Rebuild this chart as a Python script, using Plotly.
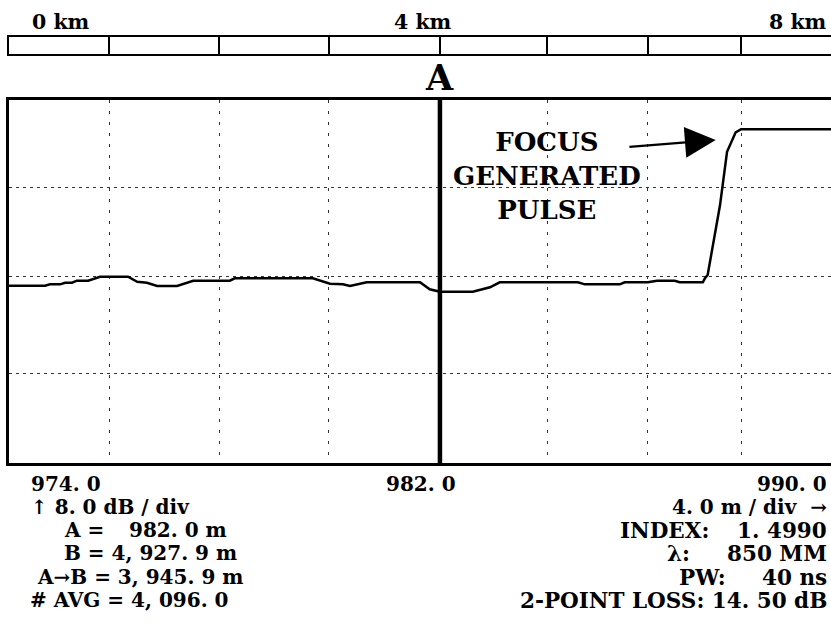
import plotly.graph_objects as go

# ---------------- data ----------------
trace_x_m = [974.00, 974.67, 974.76, 974.95, 975.04, 975.17, 975.26, 975.47, 975.69, 976.21,
             976.38, 976.56, 976.75, 977.12, 977.42, 978.10, 978.19, 979.64, 979.96, 980.20,
             980.33, 980.64, 981.63, 981.81, 982.00, 982.61, 982.93, 983.11, 984.56, 984.69,
             985.34, 985.43, 985.86, 986.03, 986.36, 986.45, 986.88, 986.92, 986.97, 987.05,
             987.20, 987.33, 987.42, 987.49, 987.59, 989.26]
trace_db = [15.63, 15.63, 15.75, 15.75, 15.89, 15.89, 16.07, 16.07, 16.42, 16.42,
            15.98, 15.89, 15.60, 15.60, 16.07, 16.07, 16.28, 16.28, 15.81, 15.75,
            15.60, 15.93, 15.93, 15.31, 15.10, 15.10, 15.49, 15.93, 15.93, 15.75,
            15.75, 15.93, 15.93, 16.07, 16.07, 15.93, 15.93, 16.28, 16.57, 18.63,
            22.74, 27.44, 28.32, 29.15, 29.42, 29.42]

grid_x_m = [975.86, 977.90, 979.94, 982.00, 983.99, 985.86, 987.59]
grid_y_db = [7.93, 16.40, 24.33]
x_range_m = [974.0, 989.26]
y_range_db = [0, 32]
cursor_a_m = 982.0
cursor_label = "A"

km_labels = ["0 km", "4 km", "8 km"]
dist_labels = ["974. 0", "982. 0", "990. 0"]
scale_left = ["↑ 8. 0 dB / div"]
scale_right = ["4. 0 m / div  →"]

pulse_text = "FOCUS<br>GENERATED<br>PULSE"
pulse_text_pos = [983.99, 25.3]
pulse_arrow_tip = [987.12, 28.47]
pulse_arrow_tail = [985.49, 27.86]

# info block: (left part, right part)
left_info = [("A =", "982. 0 m"), ("B = 4, 927. 9 m", None), ("A→B = 3, 945. 9 m", None), ("# AVG = 4, 096. 0", None)]
right_info = [("INDEX:", "1. 4990"), ("λ:", "850 MM"), ("PW:", "40 ns"), ("2-POINT LOSS: 14. 50 dB", None)]

# ---------------- figure ----------------
W, H = 831, 639
ML = 9
FONT = "DejaVu Serif"

fig = go.Figure()
fig.add_trace(go.Scatter(x=trace_x_m, y=trace_db, mode="lines",
                         line=dict(color="black", width=2.5), hoverinfo="skip", showlegend=False))
fig.add_trace(go.Scatter(x=[cursor_a_m, cursor_a_m], y=y_range_db, mode="lines",
                         line=dict(color="black", width=4.5), hoverinfo="skip", showlegend=False))
# scale-bar subplot
fig.add_trace(go.Scatter(x=[x_range_m[0]], y=[0.5], mode="markers", marker=dict(opacity=0),
                         xaxis="x2", yaxis="y2", hoverinfo="skip", showlegend=False))


def py2p(py):
    return (H - py) / H


def px2p(px):
    return (px - ML) / (W - ML)


main_dom = [py2p(463), py2p(100)]
bar_dom = [py2p(53.5), py2p(37)]

fig.update_layout(
    width=W, height=H,
    margin=dict(l=ML, r=0, t=0, b=0),
    paper_bgcolor="white", plot_bgcolor="white",
    showlegend=False,
    xaxis=dict(range=x_range_m, domain=[0, 1], tickvals=grid_x_m, showticklabels=False, ticks="",
               showgrid=True, gridcolor="#333", gridwidth=1.2, griddash="3px,8px",
               showline=True, mirror=True, linecolor="black", linewidth=2.5, zeroline=False),
    yaxis=dict(range=y_range_db, domain=main_dom, tickvals=grid_y_db, showticklabels=False, ticks="",
               showgrid=True, gridcolor="#333", gridwidth=1.2, griddash="3px,4px",
               showline=True, mirror=False, linecolor="black", linewidth=2.5, zeroline=False),
    xaxis2=dict(matches="x", anchor="y2", domain=[0, 1], tickvals=grid_x_m, showticklabels=False, ticks="",
                showgrid=True, gridcolor="black", gridwidth=2,
                showline=True, mirror=True, linecolor="black", linewidth=2, zeroline=False),
    yaxis2=dict(range=[0, 1], domain=bar_dom, anchor="x2", showticklabels=False, ticks="",
                showgrid=False, showline=True, mirror=False, linecolor="black", linewidth=2, zeroline=False),
)

fs = 20
fs_r = 21.5


def ann(text, px, py, anchor="left", size=fs):
    fig.add_annotation(text="<b>%s</b>" % text, xref="paper", yref="paper",
                       x=px2p(px), y=py2p(py), xanchor=anchor, yanchor="middle",
                       showarrow=False, font=dict(family=FONT, size=size, color="black"))


# km labels
ann(km_labels[0], 30, 22, "left", 20.5)
ann(km_labels[1], 423, 22, "center", 20.5)
ann(km_labels[2], 829, 22, "right", 20.5)

# cursor label
fig.add_annotation(text="<b>%s</b>" % cursor_label, x=cursor_a_m, xref="x", yref="paper",
                   y=py2p(78), xanchor="center", yanchor="middle", showarrow=False,
                   font=dict(family=FONT, size=35, color="black"))

# distance labels
ann(dist_labels[0], 29, 484, "left")
ann(dist_labels[1], 421, 484, "center")
ann(dist_labels[2], 829, 484, "right")
ann(scale_left[0], 29, 507, "left")
ann(scale_right[0], 829, 507, "right")

row_y = [530, 553, 577, 600]
left_x = [62, 62, 35, 28]
for (a, b), y, x in zip(left_info, row_y, left_x):
    ann(a, x, y, "left")
    if b:
        ann(b, 229, y, "right")

right_x = [618, 665, 677, 520]
for (a, b), y, x in zip(right_info, row_y, right_x):
    if b:
        ann(a, x, y, "left", fs_r)
        ann(b, 829, y, "right", fs_r)
    else:
        ann(a, 829, y, "right", fs_r)

# focus pulse note
fig.add_annotation(text="<b>%s</b>" % pulse_text, x=pulse_text_pos[0], y=pulse_text_pos[1],
                   xref="x", yref="y", showarrow=False, xanchor="center", yanchor="middle",
                   font=dict(family=FONT, size=26, color="black"))
fig.add_annotation(text="", x=pulse_arrow_tip[0], y=pulse_arrow_tip[1], xref="x", yref="y",
                   ax=pulse_arrow_tail[0], ay=pulse_arrow_tail[1], axref="x", ayref="y",
                   showarrow=True, arrowhead=2, arrowsize=2.8, arrowwidth=2.2, arrowcolor="black",
                   standoff=0, startstandoff=0)

fig.write_html("out.html", config={"displayModeBar": False},
               post_script="document.body.style.margin='0';document.body.style.overflow='hidden';")
